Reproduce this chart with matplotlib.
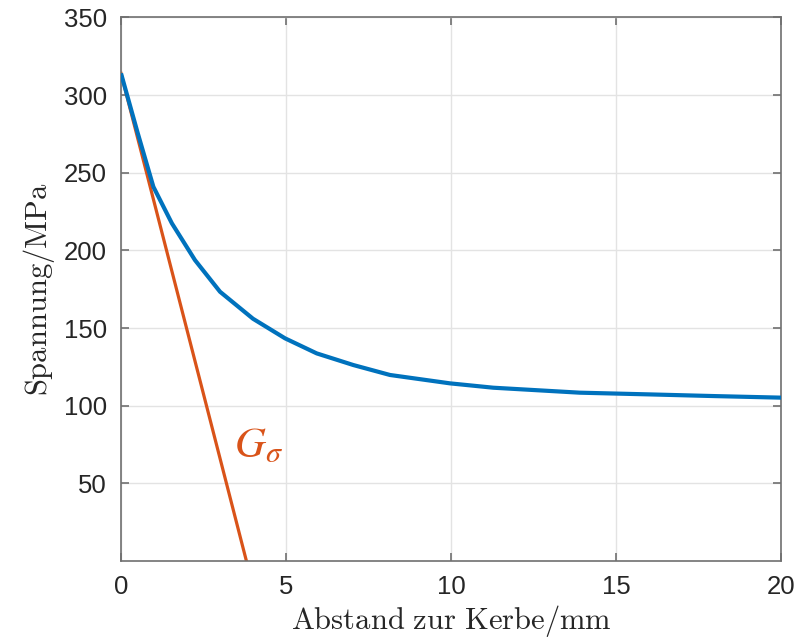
import matplotlib
matplotlib.use("Agg")
import matplotlib.pyplot as plt

# Data
dist_mm = [0.0, 0.5, 0.98, 1.54, 2.24, 3.0, 4.0, 4.97, 5.93, 7.04, 8.15, 9.97, 11.28, 13.9, 16.0, 18.0, 20.0]
stress_mpa = [314, 276, 241, 217.5, 193.8, 173.4, 156, 143.4, 133.7, 126.2, 119.8, 114.4, 111.6, 108.4, 107.3, 106.2, 105.2]
grad_x = [0.0, 3.8]
grad_y = [314, 0]

xticks = [0, 5, 10, 15, 20]
yticks = [50, 100, 150, 200, 250, 300, 350]

plt.rcParams['mathtext.fontset'] = 'cm'

fig = plt.figure(figsize=(8.09, 6.43), dpi=100)
ax = fig.add_axes([0.1496, 0.1275, 0.8158, 0.8453])

ax.plot(dist_mm, stress_mpa, color='#0072BD', lw=3.0, solid_capstyle='butt',
        solid_joinstyle='round', zorder=3)
ax.plot(grad_x, grad_y, color='#D95319', lw=2.3, zorder=2)

ax.set_xlim(0, 20)
ax.set_ylim(0, 350)
ax.set_xticks(xticks)
ax.set_yticks(yticks)
ax.grid(True, color='#e3e3e3', lw=1.0)
ax.set_axisbelow(True)

for s in ax.spines.values():
    s.set_color('#707070')
    s.set_linewidth(1.2)
ax.tick_params(direction='in', length=6, width=1.2, color='#707070',
               top=True, right=True, labelsize=18.5, pad=10)
for lab in ax.get_xticklabels() + ax.get_yticklabels():
    lab.set_family('Liberation Sans')
    lab.set_color('#262626')

ax.set_xlabel(r'$\mathrm{Abstand\ zur\ Kerbe/mm}$', fontsize=22, color='#262626', labelpad=3)
ax.set_ylabel(r'$\mathrm{Spannung/MPa}$', fontsize=22, color='#262626', labelpad=5)

ax.text(3.42, 67, r'$G_\sigma$', color='#D95319', fontsize=31, ha='left', va='baseline',
        math_fontfamily='stix')

fig.savefig('out.png', dpi=100)
